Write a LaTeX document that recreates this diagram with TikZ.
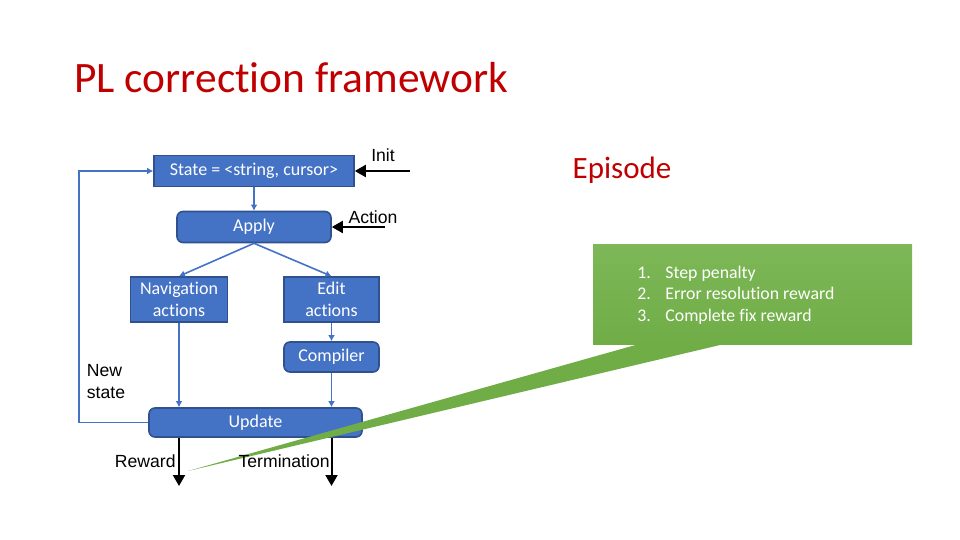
\documentclass[tikz,border=0pt]{standalone}
\usepackage{fontspec}
\setmainfont[Ligatures=NoCommon]{Carlito}
\newfontfamily\arialfont{Liberation Sans}
\usetikzlibrary{arrows.meta,positioning,calc}
\definecolor{PLRed}{HTML}{C00000}
\definecolor{PLBlue}{HTML}{4472C4}
\definecolor{PLBlueDark}{HTML}{2F528F}
\definecolor{PLGreen}{HTML}{70AD47}
\definecolor{PLGreenLight}{HTML}{7DB757}
\tikzset{
  figtitle/.style={font=\fontsize{21.7}{26}\selectfont\color{PLRed}},
  blockfill/.style={draw=PLBlueDark, fill=PLBlue, line width=0.8pt, inner sep=0pt,
                    align=center, font=\fontsize{9}{11}\selectfont\color{white}},
  blockround/.style={blockfill, rounded corners=3pt},
  arrow/.style={-{Latex[length=3pt,width=3.4pt]}, line width=0.8pt, PLBlue},
  blackarrow/.style={-{Triangle[length=5.5pt,width=6pt]}, line width=1pt, black},
  note/.style={font=\arialfont\fontsize{8.8}{11}\selectfont, align=left, inner sep=0pt},
}

\begin{document}
\begin{tikzpicture}[x=0.5pt, y=-0.5pt]
  \useasboundingbox (0,0) rectangle (960,540);

  % title
  \node[figtitle, anchor=base west, inner sep=0pt] (title) at (74,93) {PL correction framework};
  \node[figtitle, font=\fontsize{15.5}{18}\selectfont\color{PLRed}] (episode) at (622,170) {Episode};

  % blocks
  \node[blockfill, minimum width=100pt, minimum height=15.5pt] (state) at (254,171)
        {State = <string, cursor>};
  \node[blockround, minimum width=77pt, minimum height=15.5pt] (apply) at (254,227) {Apply};
  \node[blockfill, minimum width=48.5pt, minimum height=22.5pt] (nav) at (179,299.5)
        {Navigation\\actions};
  \node[blockfill, minimum width=47.5pt, minimum height=22.5pt] (edit) at (331.5,299.5)
        {Edit\\actions};
  \node[blockround, minimum width=47.5pt, minimum height=15pt] (compiler) at (331.5,357) {Compiler};
  \node[blockround, minimum width=106.5pt, minimum height=14.5pt] (update) at (255.5,422.5) {Update};

  % flow
  \draw[arrow] (state) -- (apply);
  \draw[arrow] (apply.south) -- (nav.north);
  \draw[arrow] (apply.south) -- (edit.north);
  \draw[arrow] (nav) -- (nav |- update.north);
  \draw[arrow] (edit) -- (compiler);
  \draw[arrow] (compiler) -- (compiler |- update.north);
  \draw[arrow] (update.west) -- ++(-69,0) |- (state.west);
  \node[note] (newstate) at (106,382) {New\\state};

  % inputs
  \coordinate (initsrc) at (410,171);
  \coordinate (actionsrc) at (385,227);
  \draw[blackarrow] (initsrc) -- (state.east);
  \draw[blackarrow] (actionsrc) -- (apply.east);
  \node[note] (init) at (383,155) {Init};
  \node[note] (action) at (373,217) {Action};

  % callout
  \node[top color=PLGreenLight, bottom color=PLGreen, minimum width=159.5pt, minimum height=49.5pt,
        inner sep=0pt] (callout) at (752.5,294.5) {};
  \coordinate (tip) at (188,471);
  \fill[PLGreen] ($(callout.south west)+(45,0)$) -- (tip) -- ($(callout.south west)+(130,0)$) -- cycle;
  \node[anchor=west, align=left, inner sep=0pt, text=white,
        font=\fontsize{8.9}{10.75}\selectfont] (rewards) at (637,295)
        {\makebox[14pt][l]{1.}Step penalty\\
         \makebox[14pt][l]{2.}Error resolution reward\\
         \makebox[14pt][l]{3.}Complete fix reward};

  % outputs
  \coordinate (rewardend) at (179,486);
  \coordinate (termend) at (331.5,486);
  \draw[blackarrow] (nav |- update.south) -- (rewardend);
  \draw[blackarrow] (compiler |- update.south) -- (termend);
  \node[note, anchor=east] (reward) at (176,461) {Reward};
  \node[note, anchor=east] (termination) at (330,461) {Termination};

\end{tikzpicture}
\end{document}
